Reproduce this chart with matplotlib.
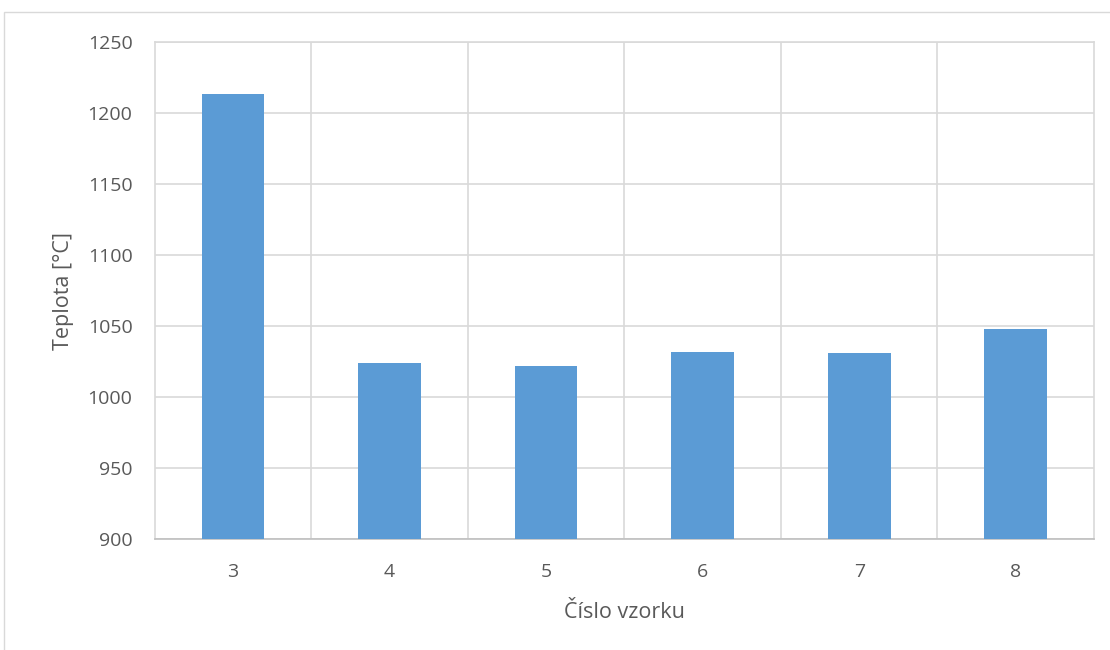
import matplotlib.pyplot as plt
from matplotlib.patches import Rectangle

# teplota jednotlivých vzorků
vzorky = ['3', '4', '5', '6', '7', '8']
teplota = [1213.5, 1024, 1022, 1032, 1031.5, 1048]

plt.rcParams['font.family'] = ['Open Sans', 'DejaVu Sans']

fig = plt.figure(figsize=(11.1, 6.5), dpi=100)
ax = fig.add_axes([0.1394, 0.1703, 0.8462, 0.7647])

x = range(len(vzorky))
ax.bar(x, teplota, width=0.4, color='#5b9bd5', zorder=3)

ax.set_xlim(-0.5, len(vzorky) - 0.5)
ax.set_ylim(900, 1250)
ax.set_yticks(range(900, 1251, 50))
ax.set_xticks(list(x))
ax.set_xticklabels(vzorky)

# svislé mřížky mezi kategoriemi (jako v Excelu)
ax.set_xticks([i + 0.5 for i in range(len(vzorky) - 1)], minor=True)
ax.grid(axis='y', which='major', color='#d9d9d9', linewidth=1.2, zorder=0)
ax.grid(axis='x', which='minor', color='#d9d9d9', linewidth=1.2, zorder=0)
ax.tick_params(which='both', length=0)
ax.tick_params(axis='both', labelsize=14, labelcolor='#595959')
ax.tick_params(axis='x', pad=17)
ax.tick_params(axis='y', pad=16)

for s in ['top', 'right', 'left']:
    ax.spines[s].set_color('#d9d9d9')
    ax.spines[s].set_linewidth(1.2)
ax.spines['bottom'].set_color('#bfbfbf')
ax.spines['bottom'].set_linewidth(1.2)

ax.set_xlabel('Číslo vzorku', fontsize=15.5, color='#595959', labelpad=15)
ax.set_ylabel('Teplota [°C]', fontsize=15.5, color='#595959', labelpad=10)

# rámeček kolem grafu
fig.patches.append(Rectangle((4 / 1110, -0.01), 1.02, 638 / 650 + 0.01,
                             transform=fig.transFigure, fill=False,
                             edgecolor='#d9d9d9', linewidth=1))

fig.savefig('out.png', dpi=100)
